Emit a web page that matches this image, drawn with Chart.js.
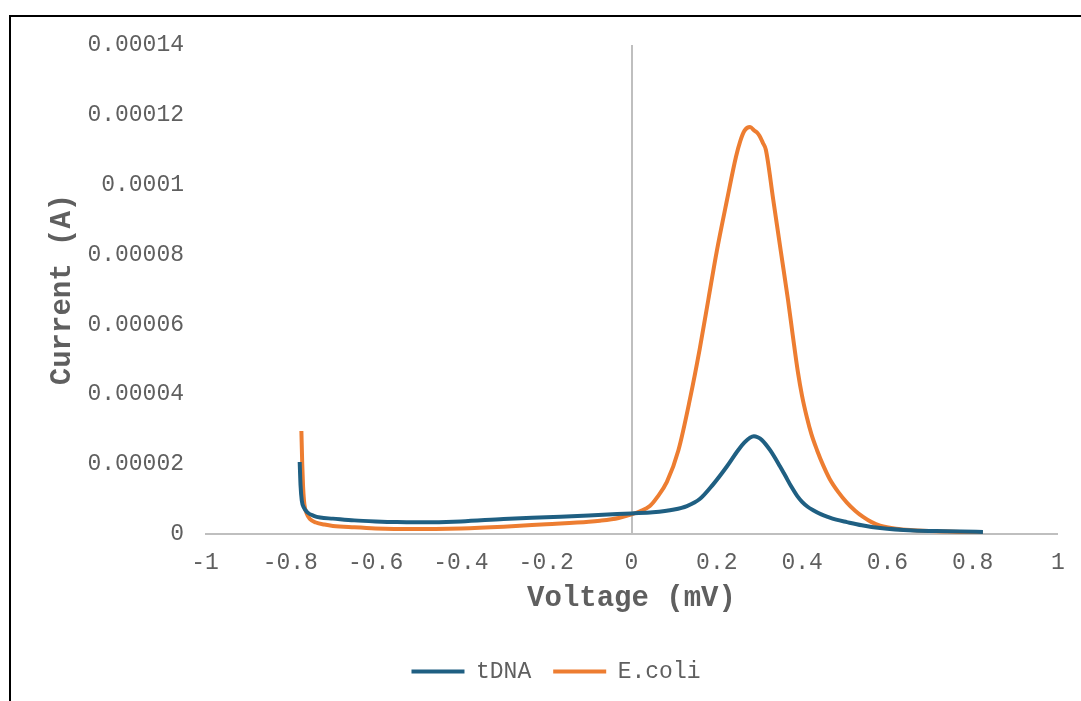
<!DOCTYPE html>
<html>
<head>
<meta charset="utf-8">
<title>Current vs Voltage</title>
<script src="https://cdn.jsdelivr.net/npm/chart.js@4.4.1/dist/chart.umd.min.js"></script>
<style>
    html, body { margin: 0; padding: 0; background: #fff; overflow: hidden; }
    #wrap { position: relative; width: 1081px; height: 701px; }
    #frame {
        position: absolute; left: 9px; top: 15px; right: -10px; bottom: -10px;
        border-left: 2px solid #000; border-top: 2px solid #000;
        pointer-events: none;
    }
    canvas { position: absolute; left: 0; top: 0; }
</style>
</head>
<body>
<div id="wrap">
    <canvas id="chart" width="1081" height="701"></canvas>
    <div id="frame"></div>
</div>
<script>
// Voltage (mV) / Current (A)
const tdnaX = [-0.778, -0.776, -0.773, -0.768, -0.76, -0.745, -0.73, -0.7, -0.65, -0.6, -0.55, -0.5,
    -0.4, -0.3, -0.2, -0.1, 0, 0.05, 0.1, 0.13, 0.16, 0.19, 0.224, 0.25, 0.265, 0.278, 0.287, 0.296, 0.305, 0.325,
    0.348, 0.36, 0.375, 0.388, 0.4, 0.413, 0.426, 0.445, 0.46, 0.48, 0.505, 0.54, 0.583, 0.66, 0.74, 0.824];
const tdnaY = [2.06e-5, 1.4e-5, 9.5e-6, 7.5e-6, 6.2e-6, 5.2e-6, 4.7e-6, 4.4e-6, 3.9e-6, 3.6e-6, 3.4e-6, 3.35e-6,
    3.6e-6, 4.3e-6, 4.8e-6, 5.3e-6, 5.9e-6, 6.2e-6, 7e-6, 8e-6, 1.0e-5, 1.4e-5, 1.94e-5, 2.4e-5, 2.62e-5, 2.76e-5, 2.8e-5, 2.77e-5, 2.7e-5, 2.4e-5,
    1.94e-5, 1.68e-5, 1.35e-5, 1.1e-5, 9.2e-6, 7.8e-6, 6.8e-6, 5.6e-6, 4.9e-6, 4.1e-6, 3.4e-6, 2.5e-6, 1.7e-6, 1.0e-6, 8e-7, 6e-7];

const ecoliX = [-0.774, -0.772, -0.77, -0.767, -0.762, -0.754, -0.74, -0.72, -0.7, -0.65, -0.6, -0.52,
    -0.4, -0.3, -0.2, -0.1, -0.074, -0.03, 0, 0.02, 0.043, 0.06, 0.083, 0.11, 0.137, 0.16, 0.18, 0.2,
    0.224, 0.245, 0.255, 0.265, 0.278, 0.288, 0.294, 0.3, 0.308, 0.315, 0.332, 0.35, 0.367, 0.378, 0.39,
    0.4, 0.411, 0.422, 0.435, 0.45, 0.465, 0.485, 0.505, 0.525, 0.543, 0.563, 0.583, 0.62, 0.66, 0.74, 0.824];
const ecoliY = [2.95e-5, 2.0e-5, 1.35e-5, 8.5e-6, 6e-6, 4.3e-6, 3.3e-6, 2.7e-6, 2.3e-6, 1.9e-6, 1.6e-6, 1.4e-6,
    1.6e-6, 2.1e-6, 2.8e-6, 3.5e-6, 3.8e-6, 4.6e-6, 5.6e-6, 6.5e-6, 8e-6, 1.05e-5, 1.49e-5, 2.4e-5, 3.86e-5, 5.3e-5, 6.7e-5, 8.1e-5,
    9.57e-5, 1.08e-4, 1.125e-4, 1.155e-4, 1.165e-4, 1.155e-4, 1.15e-4, 1.14e-4, 1.12e-4, 1.1e-4, 9.6e-5, 8.1e-5, 6.7e-5, 5.7e-5, 4.65e-5,
    3.95e-5, 3.35e-5, 2.85e-5, 2.4e-5, 1.95e-5, 1.57e-5, 1.2e-5, 9e-6, 6.6e-6, 4.9e-6, 3.4e-6, 2.4e-6, 1.5e-6, 1.1e-6, 7e-7, 3e-7];

const xTicks = [-1, -0.8, -0.6, -0.4, -0.2, 0, 0.2, 0.4, 0.6, 0.8, 1];
const yTicks = [0, 0.00002, 0.00004, 0.00006, 0.00008, 0.0001, 0.00012, 0.00014];

const FONT = '"Liberation Mono", "Courier New", monospace';
const TEXT = '#5f5f5f';
const AXIS = '#bfbfbf';

function toPoints(xs, ys) {
    return xs.map((x, i) => ({ x: x, y: ys[i] }));
}

const ctx = document.getElementById('chart').getContext('2d');
new Chart(ctx, {
    type: 'line',
    data: {
        datasets: [{
            label: 'tDNA',
            data: toPoints(tdnaX, tdnaY),
            borderColor: '#1f5f82',
            backgroundColor: '#1f5f82',
            borderWidth: 4,
            pointRadius: 0,
            pointStyle: 'line',
            cubicInterpolationMode: 'monotone'
        }, {
            label: 'E.coli',
            data: toPoints(ecoliX, ecoliY),
            borderColor: '#ed7d31',
            backgroundColor: '#ed7d31',
            borderWidth: 4,
            pointRadius: 0,
            pointStyle: 'line',
            cubicInterpolationMode: 'monotone'
        }]
    },
    options: {
        responsive: false,
        animation: false,
        layout: { padding: { left: 54, right: 23, top: 45, bottom: 8 } },
        plugins: {
            tooltip: { enabled: false },
            legend: {
                position: 'bottom',
                labels: {
                    usePointStyle: true,
                    pointStyleWidth: 53,
                    padding: 22,
                    color: TEXT,
                    font: { family: FONT, size: 23 }
                }
            }
        },
        scales: {
            x: {
                type: 'linear',
                min: -1,
                max: 1,
                afterBuildTicks: (scale) => { scale.ticks = xTicks.map(v => ({ value: v })); },
                afterFit: (scale) => { scale.height = 104; },
                border: { display: false },
                grid: {
                    drawTicks: false,
                    lineWidth: 2,
                    color: (c) => (c.tick && c.tick.value === 0 ? AXIS : 'rgba(0,0,0,0)')
                },
                ticks: {
                    padding: 15,
                    color: TEXT,
                    font: { family: FONT, size: 23 },
                    maxRotation: 0,
                    callback: (v) => String(Number(v.toFixed(1)))
                },
                title: {
                    display: true,
                    text: 'Voltage (mV)',
                    color: TEXT,
                    font: { family: FONT, size: 29, weight: 'bold' },
                    padding: { top: 0, bottom: 22 }
                }
            },
            y: {
                min: 0,
                max: 0.00014,
                afterBuildTicks: (scale) => { scale.ticks = yTicks.map(v => ({ value: v })); },
                afterFit: (scale) => { scale.width = 151; },
                border: { display: false },
                grid: {
                    drawTicks: false,
                    lineWidth: 2,
                    color: (c) => (c.tick && c.tick.value === 0 ? AXIS : 'rgba(0,0,0,0)')
                },
                ticks: {
                    padding: 21,
                    color: TEXT,
                    font: { family: FONT, size: 23 },
                    callback: (v) => String(Number(v.toFixed(5)))
                },
                title: {
                    display: true,
                    text: 'Current (A)',
                    color: TEXT,
                    font: { family: FONT, size: 29, weight: 'bold' },
                    padding: { top: -9, bottom: 0 }
                }
            }
        }
    }
});
</script>
</body>
</html>
